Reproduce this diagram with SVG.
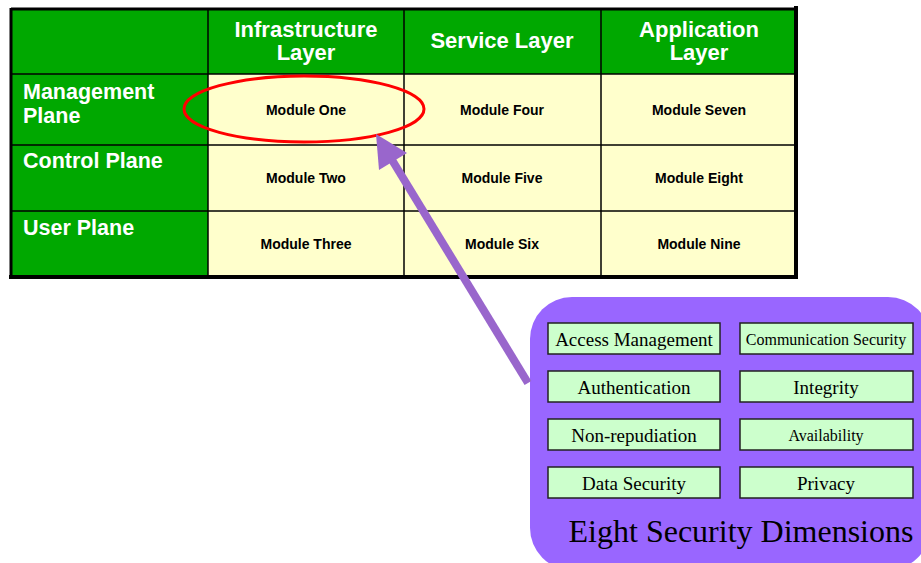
<svg xmlns="http://www.w3.org/2000/svg" width="921" height="563" viewBox="0 0 921 563">
  <style>
    .hdr { fill: #00A800; }
    .cell { fill: #FFFFCC; }
    .grid { stroke: #000; stroke-width: 1.5; fill: none; }
    .htxt { font-family: "Liberation Sans", Arial, sans-serif; font-weight: bold; font-size: 22px; fill: #fff; }
    .rtxt { font-size: 21.5px; }
    .mtxt { font-family: "Liberation Sans", Arial, sans-serif; font-weight: bold; font-size: 14px; fill: #000; text-anchor: middle; }
    .dim { fill: #CCFFCC; stroke: #222; stroke-width: 1.5; }
    .dtxt { font-family: "Liberation Serif", "Times New Roman", serif; font-size: 19px; fill: #000; text-anchor: middle; }
    .dsm { font-size: 16px; }
  </style>

  <!-- layers x planes table -->
  <g id="table">
    <rect class="hdr" x="11" y="9" width="785" height="66"/>
    <rect class="hdr" x="11" y="74" width="198" height="203"/>
    <rect class="cell" x="208" y="74" width="588" height="203"/>
    <g class="grid">
      <line x1="208" y1="9" x2="208" y2="277"/>
      <line x1="404" y1="9" x2="404" y2="277"/>
      <line x1="601" y1="9" x2="601" y2="277"/>
      <line x1="11" y1="74" x2="796" y2="74"/>
      <line x1="11" y1="145" x2="796" y2="145"/>
      <line x1="11" y1="211" x2="796" y2="211"/>
    </g>
    <path d="M11 9 H796" stroke="#000" stroke-width="3" fill="none"/>
    <path d="M11 8 V277" stroke="#000" stroke-width="3" fill="none"/>
    <path d="M796 6 V277 H9" stroke="#000" stroke-width="4" fill="none"/>
  </g>

  <g id="col-infrastructure">
    <text class="htxt" x="306" y="37" text-anchor="middle">Infrastructure</text>
    <text class="htxt" x="306" y="60" text-anchor="middle">Layer</text>
  </g>
  <g id="col-service">
    <text class="htxt" x="502" y="48" text-anchor="middle">Service Layer</text>
  </g>
  <g id="col-application">
    <text class="htxt" x="699" y="37" text-anchor="middle">Application</text>
    <text class="htxt" x="699" y="60" text-anchor="middle">Layer</text>
  </g>

  <g id="row-management">
    <text class="htxt rtxt" x="23" y="99">Management</text>
    <text class="htxt rtxt" x="23" y="123">Plane</text>
  </g>
  <g id="row-control">
    <text class="htxt rtxt" x="23" y="168">Control Plane</text>
  </g>
  <g id="row-user">
    <text class="htxt rtxt" x="23" y="235">User Plane</text>
  </g>

  <g id="module-one"><text class="mtxt" x="306" y="115">Module One</text></g>
  <g id="module-two"><text class="mtxt" x="306" y="183">Module Two</text></g>
  <g id="module-three"><text class="mtxt" x="306" y="249">Module Three</text></g>
  <g id="module-four"><text class="mtxt" x="502" y="115">Module Four</text></g>
  <g id="module-five"><text class="mtxt" x="502" y="183">Module Five</text></g>
  <g id="module-six"><text class="mtxt" x="502" y="249">Module Six</text></g>
  <g id="module-seven"><text class="mtxt" x="699" y="115">Module Seven</text></g>
  <g id="module-eight"><text class="mtxt" x="699" y="183">Module Eight</text></g>
  <g id="module-nine"><text class="mtxt" x="699" y="249">Module Nine</text></g>

  <!-- highlight on the first module -->
  <g id="highlight">
    <ellipse cx="304" cy="109" rx="120" ry="33" fill="none" stroke="#FF0000" stroke-width="3"/>
  </g>

  <!-- security dimensions panel -->
  <g id="dimensions">
    <rect x="530" y="297" width="400" height="273" rx="42" fill="#9966FF"/>
    <rect class="dim" x="548" y="323" width="172" height="31"/>
    <text class="dtxt" x="634" y="346">Access Management</text>
    <rect class="dim" x="740" y="323" width="173" height="31"/>
    <text class="dtxt dsm" x="826" y="345">Communication Security</text>
    <rect class="dim" x="548" y="371" width="172" height="31"/>
    <text class="dtxt" x="634" y="394">Authentication</text>
    <rect class="dim" x="740" y="371" width="173" height="31"/>
    <text class="dtxt" x="826" y="394">Integrity</text>
    <rect class="dim" x="548" y="419" width="172" height="31"/>
    <text class="dtxt" x="634" y="442">Non-repudiation</text>
    <rect class="dim" x="740" y="419" width="173" height="31"/>
    <text class="dtxt dsm" x="826" y="441">Availability</text>
    <rect class="dim" x="548" y="467" width="172" height="31"/>
    <text class="dtxt" x="634" y="490">Data Security</text>
    <rect class="dim" x="740" y="467" width="173" height="31"/>
    <text class="dtxt" x="826" y="490">Privacy</text>
    <text x="741" y="542" font-family="'Liberation Serif', 'Times New Roman', serif" font-size="32" text-anchor="middle" fill="#000">Eight Security Dimensions</text>
  </g>

  <!-- connector from panel to the highlighted module -->
  <g id="connectors">
    <line x1="528" y1="383" x2="389" y2="155" stroke="#9966CC" stroke-width="8"/>
    <polygon points="376,134 407,153 379,170" fill="#9966CC"/>
  </g>
</svg>
